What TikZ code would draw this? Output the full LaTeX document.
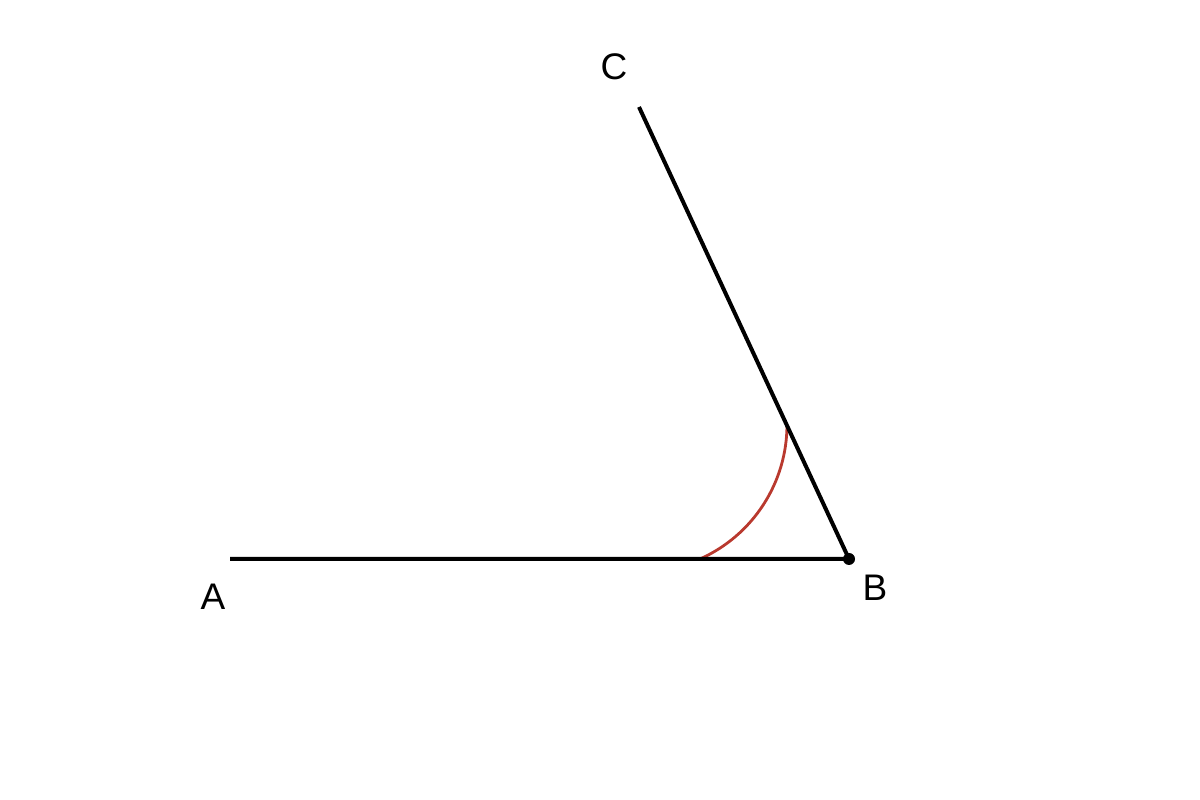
\documentclass[tikz,border=0pt]{standalone}
\usepackage{fontspec}
\setmainfont{Liberation Sans}
\definecolor{arcred}{RGB}{185,57,46}
\tikzset{
  seg/.style={line width=4pt, black},
  anglearc/.style={line width=2.8pt, arcred},
  lbl/.style={inner sep=0pt, font=\fontsize{37}{41}\selectfont}
}
\begin{document}
\begin{tikzpicture}[x=1pt,y=1pt]
\useasboundingbox (0,0) rectangle (1200,800);
\coordinate (A) at (230,241);
\coordinate (B) at (849,241);
\coordinate (C) at (639,693);
\draw[anglearc] (700,241) arc[start angle=-65.9, end angle=0, radius=147];
\draw[seg] (A) -- (B) -- (C);
\fill (B) circle (6);
\node[lbl] (lA) at (213,203) {A};
\node[lbl] (lB) at (875,212) {B};
\node[lbl] (lC) at (614,733) {C};
\end{tikzpicture}
\end{document}
